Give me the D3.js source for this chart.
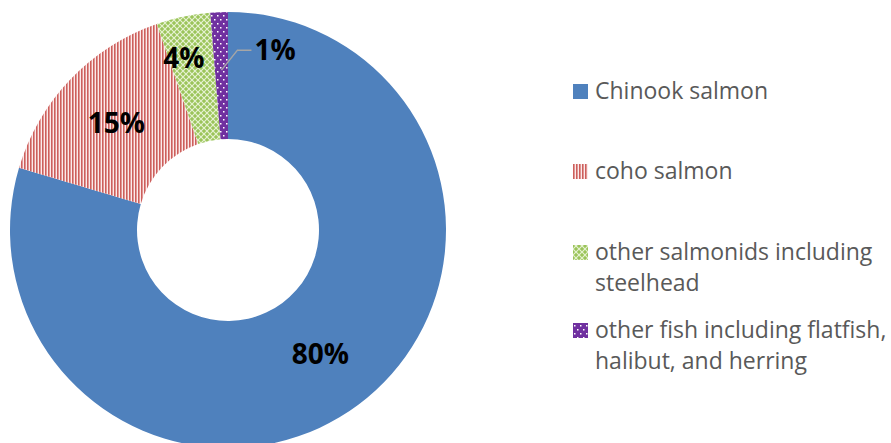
<!DOCTYPE html>
<html>
<head>
<meta charset="utf-8">
<script src="https://cdn.jsdelivr.net/npm/d3@7"></script>
<style>
  body { margin: 0; background: #fff; }
  svg { display: block; }
</style>
</head>
<body>
<div id="chart"></div>
<script>
// Data
const categories = ["Chinook salmon", "coho salmon", "other salmonids including steelhead", "other fish including flatfish, halibut, and herring"];
const shares = [79.6, 15.1, 4.0, 1.3];
const legendLines = [["Chinook salmon"], ["coho salmon"], ["other salmonids including", "steelhead"], ["other fish including flatfish,", "halibut, and herring"]];

function drawDonut() {
    const width = 891, height = 443;
    const cx = 228, cy = 230;
    const outerR = 218, innerR = 91;

    const svg = d3.select("#chart").append("svg")
        .attr("width", width)
        .attr("height", height);

    svg.append("rect").attr("width", width).attr("height", height).attr("fill", "#fff");

    // Fill patterns
    const defs = svg.append("defs");

    const stripes = defs.append("pattern")
        .attr("id", "p-coho").attr("patternUnits", "userSpaceOnUse")
        .attr("width", 3).attr("height", 3);
    stripes.append("rect").attr("width", 3).attr("height", 3).attr("fill", "#fbeaea");
    stripes.append("rect").attr("width", 1.6).attr("height", 3).attr("fill", "#cd5f5c");

    const grid = defs.append("pattern")
        .attr("id", "p-green").attr("patternUnits", "userSpaceOnUse")
        .attr("width", 6).attr("height", 6);
    grid.append("rect").attr("width", 6).attr("height", 6).attr("fill", "#9bc45a");
    grid.append("path").attr("d", "M0,0L6,6M6,0L0,6")
        .attr("stroke", "#e6f2d2").attr("stroke-width", 1.2);

    const dots = defs.append("pattern")
        .attr("id", "p-purple").attr("patternUnits", "userSpaceOnUse")
        .attr("width", 6).attr("height", 8);
    dots.append("rect").attr("width", 6).attr("height", 8).attr("fill", "#7030a0");
    dots.append("rect").attr("x", 1).attr("y", 1).attr("width", 1.5).attr("height", 1.5).attr("fill", "#fff");
    dots.append("rect").attr("x", 4).attr("y", 5).attr("width", 1.5).attr("height", 1.5).attr("fill", "#fff");

    const fills = ["#4f81bd", "url(#p-coho)", "url(#p-green)", "url(#p-purple)"];

    const pie = d3.pie().sort(null).value(d => d);
    const arcs = pie(shares);
    const arc = d3.arc().innerRadius(innerR).outerRadius(outerR);

    const g = svg.append("g").attr("transform", `translate(${cx},${cy})`);

    g.selectAll("path.slice")
        .data(arcs)
        .enter()
        .append("path")
        .attr("class", "slice")
        .attr("d", arc)
        .attr("fill", (d, i) => fills[i]);

    // Data labels (Excel placed the small ones by hand)
    const labelRadius = [154.5, 154.5, 176, 160];
    const labelShift = [[0, 0], [0, 0], [-8, 0], [0, 0]];
    const fmt = v => Math.round(v) + "%";
    const labelFont = text => text
        .style("font-family", "'Open Sans', sans-serif")
        .style("font-weight", "bold")
        .style("font-size", "28px")
        .attr("fill", "#000");

    arcs.forEach((d, i) => {
        const mid = (d.startAngle + d.endAngle) / 2;
        const r = labelRadius[i];
        const x = r * Math.sin(mid), y = -r * Math.cos(mid);
        if (i === 3) {
            // leader line to an outside label
            g.append("polyline")
                .attr("points", [[x, y], [x + 16, y - 20], [x + 30, y - 20]].map(p => p.join(",")).join(" "))
                .attr("fill", "none")
                .attr("stroke", "#a6a6a6")
                .attr("stroke-width", 1.5);
            g.append("text")
                .attr("x", x + 33).attr("y", y - 20)
                .attr("dy", "0.35em")
                .attr("text-anchor", "start")
                .call(labelFont)
                .text(fmt(d.data));
        } else {
            g.append("text")
                .attr("x", x + labelShift[i][0]).attr("y", y + labelShift[i][1])
                .attr("dy", "0.35em")
                .attr("text-anchor", "middle")
                .call(labelFont)
                .text(fmt(d.data));
        }
    });

    // Legend
    const legendX = 573;
    const legendBase = [99, 179, 260, 338];
    const lineH = 31;
    const legend = svg.append("g");
    categories.forEach((c, i) => {
        legend.append("rect")
            .attr("x", legendX).attr("y", legendBase[i] - 15)
            .attr("width", 15).attr("height", 15)
            .attr("fill", fills[i]);
        const t = legend.append("text")
            .attr("x", legendX + 22).attr("y", legendBase[i])
            .style("font-family", "'Open Sans', sans-serif")
            .style("font-size", "23px")
            .attr("fill", "#595959");
        legendLines[i].forEach((ln, j) => {
            t.append("tspan").attr("x", legendX + 22).attr("y", legendBase[i] + j * lineH).text(ln);
        });
    });
}

drawDonut();
</script>
</body>
</html>
